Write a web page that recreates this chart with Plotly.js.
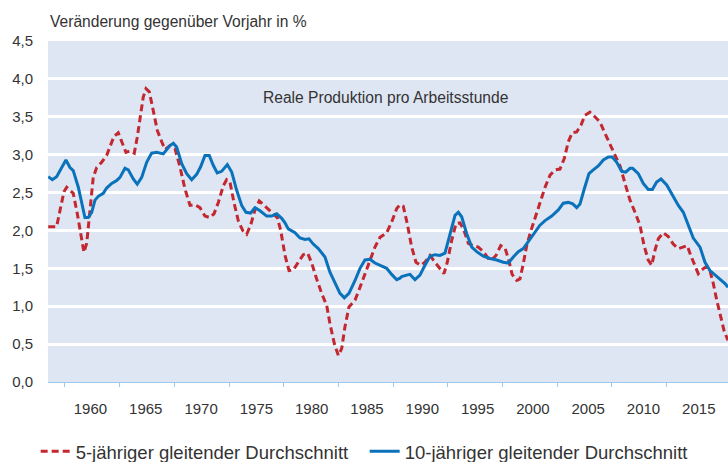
<!DOCTYPE html>
<html>
<head>
<meta charset="utf-8">
<script src="https://cdn.plot.ly/plotly-3.0.1.min.js"></script>
<style>html,body{margin:0;padding:0;background:#fff}#chart{width:728px;height:462px}</style>
</head>
<body>
<div id="chart"></div>
<script>
// 5-jähriger gleitender Durchschnitt
const years5 = [1956.18,1956.94,1957.31,1957.60,1957.85,1958.21,1958.44,1958.81,1959.11,1959.41,1959.66,1959.95,1960.25,1960.56,1961.01,1961.46,1961.76,1962.12,1962.51,1962.82,1963.21,1963.57,1963.96,1964.23,1964.48,1964.77,1965.02,1965.32,1965.68,1966.04,1966.44,1966.74,1967.19,1967.64,1968.09,1968.54,1969.00,1969.45,1969.90,1970.35,1970.80,1971.17,1971.56,1972.01,1972.31,1972.61,1972.97,1973.36,1973.76,1974.12,1974.48,1974.87,1975.26,1975.69,1976.08,1976.53,1976.89,1977.20,1977.59,1977.95,1978.34,1978.79,1979.24,1979.64,1980.00,1980.45,1980.90,1981.36,1981.65,1982.04,1982.41,1982.71,1983.01,1983.37,1983.92,1984.37,1984.82,1985.27,1985.72,1986.18,1986.78,1987.23,1987.69,1987.98,1988.28,1988.64,1989.04,1989.43,1989.86,1990.24,1990.70,1991.15,1991.60,1991.96,1992.26,1992.66,1993.05,1993.41,1993.77,1994.16,1994.61,1995.06,1995.52,1995.97,1996.27,1996.66,1997.09,1997.48,1997.87,1998.12,1998.54,1998.83,1999.13,1999.44,1999.83,2000.19,2000.64,2001.10,2001.55,2002.00,2002.45,2002.84,2003.20,2003.56,2003.96,2004.35,2004.71,2005.16,2005.61,2006.07,2006.52,2006.97,2007.42,2007.88,2008.33,2008.78,2009.23,2009.68,2010.05,2010.43,2010.74,2011.04,2011.34,2011.79,2012.24,2012.69,2013.15,2013.60,2013.96,2014.27,2014.66,2014.95,2015.26,2015.65,2016.01,2016.31,2016.62,2016.92,2017.28,2017.52,2017.64];
const values5 = [2.05,2.05,2.31,2.51,2.57,2.52,2.49,2.22,1.96,1.71,1.83,2.31,2.70,2.83,2.90,2.99,3.10,3.24,3.29,3.17,3.03,3.05,3.02,3.23,3.50,3.76,3.87,3.83,3.58,3.32,3.17,3.07,3.12,3.08,2.84,2.55,2.33,2.34,2.30,2.19,2.17,2.22,2.37,2.59,2.67,2.64,2.37,2.13,2.00,1.95,2.07,2.27,2.39,2.33,2.27,2.22,2.17,2.00,1.67,1.47,1.48,1.58,1.68,1.70,1.57,1.36,1.17,1.01,0.77,0.51,0.35,0.44,0.73,0.99,1.08,1.25,1.43,1.61,1.78,1.91,1.97,2.11,2.29,2.34,2.32,2.09,1.78,1.58,1.54,1.58,1.67,1.58,1.50,1.43,1.58,1.87,2.09,2.10,2.00,1.83,1.80,1.78,1.72,1.63,1.61,1.67,1.80,1.77,1.58,1.42,1.34,1.36,1.56,1.80,2.00,2.16,2.35,2.57,2.73,2.80,2.81,2.95,3.17,3.29,3.30,3.39,3.52,3.56,3.50,3.43,3.28,3.14,3.01,2.85,2.62,2.40,2.24,2.07,1.80,1.61,1.54,1.74,1.89,1.97,1.92,1.82,1.76,1.78,1.80,1.67,1.52,1.43,1.48,1.52,1.47,1.30,1.08,0.90,0.68,0.59,0.55];

// 10-jähriger gleitender Durchschnitt
const years10 = [1956.18,1956.55,1956.94,1957.24,1957.78,1958.15,1958.44,1958.90,1959.20,1959.50,1959.80,1960.11,1960.41,1960.71,1961.16,1961.46,1961.92,1962.37,1962.67,1963.12,1963.42,1963.87,1964.23,1964.63,1965.08,1965.53,1965.99,1966.58,1967.19,1967.49,1967.79,1968.25,1968.70,1969.15,1969.60,1969.96,1970.35,1970.74,1971.10,1971.46,1971.86,1972.37,1972.77,1973.22,1973.67,1974.06,1974.48,1974.87,1975.33,1975.93,1976.38,1976.84,1977.29,1977.59,1977.88,1978.49,1978.94,1979.39,1979.76,1980.14,1980.60,1981.20,1981.65,1982.11,1982.56,1982.95,1983.37,1983.92,1984.37,1984.82,1985.27,1985.72,1986.33,1986.78,1987.23,1987.69,1987.98,1988.14,1988.59,1988.89,1989.34,1989.79,1990.24,1990.70,1991.15,1991.60,1992.05,1992.50,1992.96,1993.26,1993.56,1994.01,1994.47,1994.92,1995.52,1996.12,1996.73,1997.32,1997.78,1998.23,1998.68,1999.13,1999.58,2000.19,2000.64,2001.10,2001.70,2002.30,2002.75,2003.20,2003.60,2003.96,2004.26,2004.65,2005.07,2005.46,2005.91,2006.37,2006.82,2007.18,2007.58,2008.03,2008.39,2008.78,2009.02,2009.53,2009.98,2010.43,2010.80,2011.19,2011.58,2012.10,2012.69,2013.15,2013.60,2014.05,2014.50,2015.11,2015.56,2016.01,2016.46,2016.92,2017.37,2017.64];
const values10 = [2.71,2.67,2.71,2.79,2.93,2.83,2.79,2.57,2.35,2.17,2.17,2.24,2.40,2.45,2.49,2.56,2.62,2.66,2.70,2.82,2.80,2.68,2.61,2.70,2.90,3.02,3.03,3.01,3.12,3.15,3.10,2.88,2.75,2.67,2.74,2.84,2.99,2.99,2.86,2.76,2.78,2.87,2.77,2.53,2.33,2.24,2.23,2.30,2.26,2.19,2.19,2.22,2.16,2.10,2.02,1.97,1.90,1.88,1.89,1.82,1.76,1.65,1.45,1.30,1.17,1.11,1.17,1.34,1.50,1.61,1.62,1.57,1.53,1.50,1.42,1.35,1.37,1.39,1.41,1.42,1.35,1.41,1.54,1.66,1.68,1.67,1.70,1.96,2.20,2.24,2.18,1.96,1.78,1.72,1.66,1.63,1.61,1.58,1.57,1.65,1.72,1.76,1.85,1.98,2.07,2.13,2.19,2.27,2.36,2.37,2.35,2.30,2.35,2.55,2.75,2.80,2.85,2.93,2.97,2.97,2.90,2.78,2.77,2.82,2.82,2.75,2.62,2.54,2.54,2.64,2.68,2.60,2.44,2.33,2.24,2.07,1.90,1.78,1.58,1.47,1.41,1.36,1.30,1.25];

const tickYears = [1960,1965,1970,1975,1980,1985,1990,1995,2000,2005,2010,2015];
const yTicks = [0,0.5,1,1.5,2,2.5,3,3.5,4,4.5];
const seriesNames = ['5-jähriger gleitender Durchschnitt','10-jähriger gleitender Durchschnitt'];

const minorTicks = [];
for (let k = 0; k < 12; k++) minorTicks.push(1957.69 + k * 4.946);

const FONT = 'Liberation Sans, Arial, sans-serif';
const traces = [
  {x: years5, y: values5, name: seriesNames[0], type: 'scatter', mode: 'lines',
   line: {color: '#c3272f', width: 3, dash: '7px,4px'}},
  {x: years10, y: values10, name: seriesNames[1], type: 'scatter', mode: 'lines',
   line: {color: '#0a72bb', width: 3}}
];

const layout = {
  width: 728, height: 462,
  margin: {l: 48, r: 0, t: 41, b: 80},
  paper_bgcolor: '#ffffff',
  plot_bgcolor: '#dfe6f3',
  separators: ',.',
  font: {family: FONT, size: 15, color: '#333333'},
  showlegend: true,
  legend: {orientation: 'h', xref: 'container', yref: 'container',
           x: 0.049, xanchor: 'left', y: 0.022, yanchor: 'middle',
           font: {family: FONT, size: 18.5, color: '#333333'},
           entrywidth: 284, entrywidthmode: 'pixels', bgcolor: 'rgba(0,0,0,0)'},
  xaxis: {
    range: [1956.16, 2017.64],
    tickmode: 'array', tickvals: tickYears, ticktext: tickYears.map(String),
    ticks: '', ticklabelstandoff: 13,
    showgrid: false, zeroline: false,
    showline: true, linecolor: '#9cc8ec', linewidth: 1,
    tickfont: {family: FONT, size: 15, color: '#333333'},
    minor: {tickmode: 'array', tickvals: minorTicks, ticks: 'outside', ticklen: 4,
            tickcolor: '#9cc8ec', tickwidth: 1, showgrid: false}
  },
  yaxis: {
    range: [0, 4.5],
    tickmode: 'array', tickvals: yTicks, tickformat: '.1f',
    ticks: '', ticklabelstandoff: 14,
    showgrid: true, gridcolor: '#ffffff', gridwidth: 3,
    zeroline: false, showline: false,
    tickfont: {family: FONT, size: 15, color: '#333333'}
  },
  annotations: [
    {text: 'Veränderung gegenüber Vorjahr in %', xref: 'paper', yref: 'paper', x: 0, y: 1,
     xanchor: 'left', yanchor: 'bottom', yshift: 9, showarrow: false,
     font: {family: FONT, size: 15.6, color: '#333333'}},
    {text: 'Reale Produktion pro Arbeitsstunde', xref: 'paper', yref: 'y', x: 0.497, y: 3.76,
     xanchor: 'center', yanchor: 'middle', showarrow: false,
     font: {family: FONT, size: 15.6, color: '#333333'}}
  ]
};

Plotly.newPlot('chart', traces, layout, {staticPlot: true, displayModeBar: false});
</script>
</body>
</html>
